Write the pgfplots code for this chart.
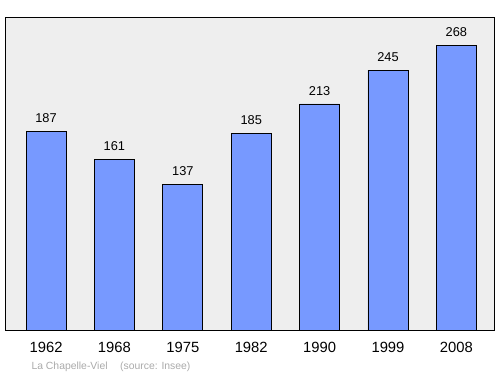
\documentclass[border=0pt]{standalone}
\usepackage{pgfplots}
\pgfplotsset{compat=1.18}
\usepackage{fontspec}
\setmainfont{Liberation Sans}
\definecolor{barblue}{HTML}{7799FF}
\definecolor{bggray}{HTML}{EEEEEE}
\definecolor{capgray}{HTML}{AAAAAA}
\begin{document}
\begin{tikzpicture}
\useasboundingbox (0,0) rectangle (500pt,374pt);
\begin{axis}[
  at={(5pt,44pt)}, anchor=south west,
  scale only axis,
  width=489pt, height=313pt,
  xmin=-0.6, xmax=6.55,
  ymin=0, ymax=295,
  axis background/.style={fill=bggray},
  axis line style={black, line width=0.9pt},
  xtick={0,1,2,3,4,5,6},
  xticklabels={1962,1968,1975,1982,1990,1999,2008},
  xtick style={draw=none},
  ytick=\empty,
  tick label style={font=\fontsize{14.8}{17}\selectfont},
  xticklabel style={yshift=-8.5pt},
  /pgf/number format/assume math mode=true,
  nodes near coords,
  every node near coord/.append style={font=\fontsize{12.8}{15}\selectfont, yshift=5pt},
]
\addplot[ybar, bar width=0.585, fill=barblue, draw=black, line width=0.7pt]
  coordinates {(0,187) (1,161) (2,137) (3,185) (4,213) (5,245) (6,268)};
\end{axis}
\node[anchor=west, text=capgray, font=\fontsize{10.4}{12}\selectfont] at (28pt,7.5pt) {La Chapelle-Viel\hspace{1.2em}(source: Insee)};
\end{tikzpicture}
\end{document}
